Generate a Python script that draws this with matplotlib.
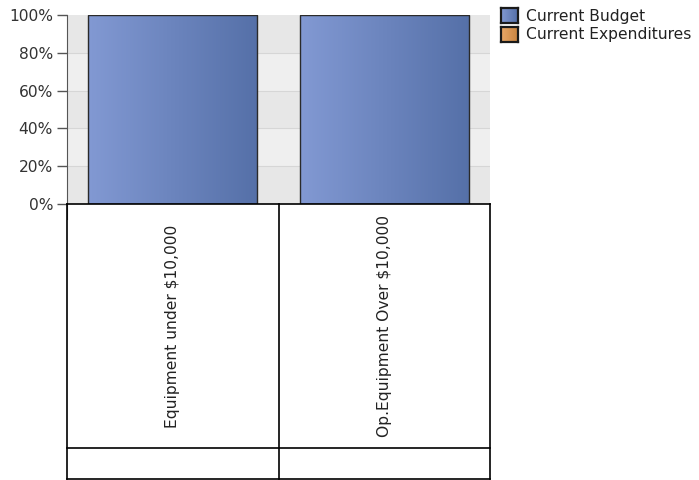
import numpy as np
import matplotlib.pyplot as plt
from matplotlib.patches import Rectangle
from matplotlib.colors import LinearSegmentedColormap

# data
categories = ["Equipment under $10,000", "Op.Equipment Over $10,000"]
series_names = ["Current Budget", "Current Expenditures"]
budget_pct = [100, 100]
expend_pct = [0, 0]
ytick_vals = [0, 20, 40, 60, 80, 100]
ytick_labels = ["0%", "20%", "40%", "60%", "80%", "100%"]

plt.rcParams['font.family'] = ['DejaVu Sans']
FS = 11.2

blue_cmap = LinearSegmentedColormap.from_list("blue", ["#8299d3", "#5570a8"])
orange_cmap = LinearSegmentedColormap.from_list("orange", ["#e9a868", "#c98440"])

fig = plt.figure(figsize=(6.99, 4.8), dpi=100)
W, H = 699, 480

def px_axes(x0, y0, x1, y1):
    return fig.add_axes([x0 / W, 1 - y1 / H, (x1 - x0) / W, (y1 - y0) / H])

ax = px_axes(67, 15, 490, 204)
ax.set_xlim(-0.5, len(categories) - 0.5)
ax.set_ylim(0, 100)

# alternating background bands
for i in range(len(ytick_vals) - 1):
    shade = "#e7e7e7" if i % 2 == 0 else "#efefef"
    ax.axhspan(ytick_vals[i], ytick_vals[i + 1], color=shade, lw=0, zorder=0)
for v in ytick_vals[1:-1]:
    ax.axhline(v, color="#d6d6d6", lw=0.8, zorder=0.5)

x = np.arange(len(categories))
grad = np.linspace(0, 1, 256).reshape(1, -1)

def gradient_bars(vals, cmap):
    bars = ax.bar(x, vals, width=0.8, color="none", edgecolor="#2a2a2a", lw=1.0, zorder=3)
    for b in bars:
        if b.get_height() <= 0:
            continue
        im = ax.imshow(grad, cmap=cmap, aspect="auto", zorder=2,
                       extent=[b.get_x(), b.get_x() + b.get_width(), 0, b.get_height()])
        im.set_clip_path(b)
    return bars

gradient_bars(budget_pct, blue_cmap)
gradient_bars(expend_pct, orange_cmap)
ax.set_xlim(-0.5, len(categories) - 0.5)
ax.set_ylim(0, 100)

ax.set_yticks(ytick_vals)
ax.set_yticklabels(ytick_labels, fontsize=FS, color="#333333")
ax.set_xticks([])
ax.tick_params(axis="y", length=7, width=1, color="#555555", pad=3)
for s in ["top", "right", "bottom"]:
    ax.spines[s].set_visible(False)
ax.spines["left"].set_color("#555555")
ax.spines["left"].set_bounds(-8, 100)

# category table below the plot
tab = px_axes(67, 204, 490, 479)
tab.set_xlim(-0.5, len(categories) - 0.5)
tab.set_ylim(0, 1)
tab.axis("off")
row_split = 31 / 275
edges = np.arange(len(categories) + 1) - 0.5
for e in edges:
    tab.plot([e, e], [0, 1], color="black", lw=1.2, clip_on=False)
for yv in [0, row_split, 1]:
    tab.plot([edges[0], edges[-1]], [yv, yv], color="black", lw=1.2, clip_on=False)
for i, name in enumerate(categories):
    tab.text(i, (1 + row_split) / 2, name, rotation=90, ha="center", va="center",
             fontsize=FS, color="#222222")

# legend
for i, (name, cmap) in enumerate(zip(series_names, [blue_cmap, orange_cmap])):
    y0 = 8 + i * 19
    lax = px_axes(501, y0, 518, y0 + 15)
    lax.imshow(grad, cmap=cmap, aspect="auto", extent=[0, 1, 0, 1])
    lax.set_xticks([])
    lax.set_yticks([])
    for s in lax.spines.values():
        s.set_linewidth(1.6)
        s.set_color("#1a1a1a")
    fig.text(526 / W, 1 - (y0 + 8) / H, name, fontsize=FS, color="#222222",
             ha="left", va="center")

fig.savefig("out.png", dpi=100)
